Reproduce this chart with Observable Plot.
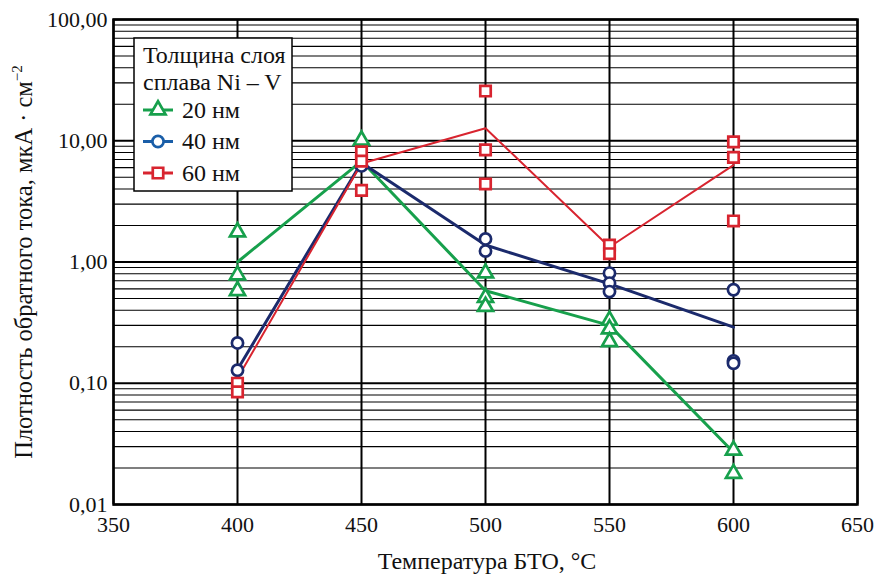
<!DOCTYPE html>
<html>
<head>
<meta charset="utf-8">
<script src="https://cdn.jsdelivr.net/npm/d3@7"></script>
<script src="https://cdn.jsdelivr.net/npm/@observablehq/plot@0.6"></script>
<style>
  html, body { margin: 0; padding: 0; background: #fff; }
  #chart { width: 876px; height: 574px; }
</style>
</head>
<body>
<div id="chart"></div>
<script>
// ---- data ----
const temps = [400, 450, 500, 550, 600];
const seriesNames = ["20 нм", "40 нм", "60 нм"];
// line (trend) values per temperature
const line20 = [1.0, 6.8, 0.58, 0.30, 0.027];
const line40 = [0.13, 6.6, 1.38, 0.66, 0.29];
const line60 = [0.11, 6.5, 12.7, 1.33, 6.3];
// measured points
const pts20x = [400, 400, 400, 450, 500, 500, 500, 550, 550, 550, 600, 600];
const pts20y = [1.77, 0.78, 0.58, 10.1, 0.81, 0.51, 0.43, 0.33, 0.28, 0.22, 0.028, 0.018];
const pts40x = [400, 400, 450, 500, 500, 550, 550, 550, 600, 600, 600];
const pts40y = [0.215, 0.128, 6.2, 1.55, 1.23, 0.81, 0.67, 0.57, 0.59, 0.153, 0.146];
const pts60x = [400, 400, 450, 450, 450, 500, 500, 500, 550, 550, 600, 600, 600];
const pts60y = [0.10, 0.085, 8.1, 6.8, 3.9, 25.7, 8.4, 4.4, 1.38, 1.17, 9.8, 7.3, 2.18];
const xTicks = [350, 400, 450, 500, 550, 600, 650];
const yMajor = [0.01, 0.1, 1, 10, 100];
const yMinorK = [2, 3, 4, 5, 6, 7, 8, 9];
const legendTitle = ["Толщина слоя", "сплава Ni – V"];
const xLabel = "Температура БТО, °C";
const yLabel = "Плотность обратного тока, мкА · см";
const yLabelSup = "−2";

const colors = ["#17a04c", "#1b2a6c", "#d8242f"];
const legendColors = ["#17a04c", "#1a5ea8", "#d8242f"];
const symbols = ["triangle", "circle", "square"];
const lineWidths = [3, 3, 2];
const radii = [5.6, 5.6, 5.9];

const yMinor = [];
for (const d of yMajor.slice(0, -1)) for (const k of yMinorK) yMinor.push(+(d * k).toPrecision(3));

const lines = [line20, line40, line60].map((vals, i) =>
  temps.map((t, j) => ({x: t, y: vals[j], s: seriesNames[i]})));
const pts = [[pts20x, pts20y], [pts40x, pts40y], [pts60x, pts60y]].map(([xs, ys], i) =>
  xs.map((x, j) => ({x, y: ys[j], s: seriesNames[i]})));

const fmt = v => d3.format(".2f")(v).replace(".", ",");
const font = "'Liberation Serif', 'Times New Roman', serif";

const chart = Plot.plot({
  width: 876,
  height: 574,
  marginLeft: 113,
  marginRight: 19,
  marginTop: 19,
  marginBottom: 70,
  style: {fontFamily: font, fontSize: "22px", background: "#fff", color: "#111"},
  x: {domain: [350, 650], ticks: xTicks, tickSize: 0, tickPadding: 12, tickFormat: d => String(d), label: null},
  y: {type: "log", domain: [0.01, 100], ticks: yMajor, tickSize: 0, tickPadding: 6, tickFormat: fmt, label: null},
  marks: [
    Plot.ruleY(yMinor, {stroke: "#000", strokeWidth: 1.1}),
    Plot.ruleY(yMajor, {stroke: "#000", strokeWidth: 2.2}),
    Plot.ruleX(xTicks, {stroke: "#000", strokeWidth: 2}),
    Plot.frame({stroke: "#000", strokeWidth: 2.5}),
    ...lines.map((l, i) => Plot.line(l, {x: "x", y: "y", stroke: colors[i], strokeWidth: lineWidths[i]})),
    ...pts.map((p, i) => Plot.dot(p, {
      x: "x", y: "y", symbol: () => symbols[i], stroke: colors[i], strokeWidth: 2.7, fill: "#fff", r: radii[i]
    }))
  ]
});

document.getElementById("chart").appendChild(chart);

const svg = d3.select(chart);
// x label
svg.append("text").attr("x", 487).attr("y", 569)
  .attr("text-anchor", "middle").attr("font-family", font).attr("font-size", 24).attr("fill", "#111")
  .text(xLabel);
// y label with superscript
const yl = svg.append("text").attr("transform", "translate(32,262) rotate(-90)")
  .attr("text-anchor", "middle").attr("font-family", font).attr("font-size", 24.5).attr("fill", "#111");
yl.append("tspan").text(yLabel);
yl.append("tspan").attr("font-size", 15).attr("dy", -10).text(yLabelSup);

// legend
const lg = svg.append("g").attr("font-family", font).attr("font-size", 24).attr("fill", "#111")
  .attr("text-anchor", "start");
lg.append("rect").attr("x", 134).attr("y", 38).attr("width", 158).attr("height", 153)
  .attr("fill", "#fff").attr("stroke", "#000").attr("stroke-width", 1.5);
legendTitle.forEach((t, i) => lg.append("text").attr("x", 143).attr("y", 63 + i * 27)
  .attr("text-anchor", "start").text(t));
const symGen = [d3.symbolTriangle, d3.symbolCircle, d3.symbolSquare];
seriesNames.forEach((n, i) => {
  const cy = 110 + i * 31.5;
  lg.append("line").attr("x1", 143).attr("x2", 173).attr("y1", cy).attr("y2", cy)
    .attr("stroke", legendColors[i]).attr("stroke-width", 3);
  const r = radii[i];
  lg.append("path").attr("d", d3.symbol(symGen[i], r * r * Math.PI)())
    .attr("transform", `translate(158,${cy})`).attr("fill", "#fff")
    .attr("stroke", legendColors[i]).attr("stroke-width", 2.7);
  lg.append("text").attr("x", 182).attr("y", cy + 7.5).attr("text-anchor", "start").text(n);
});
</script>
</body>
</html>
